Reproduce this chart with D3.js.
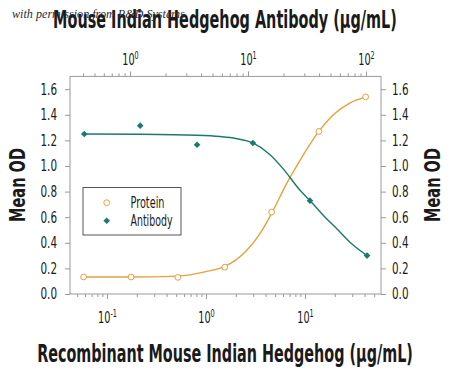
<!DOCTYPE html>
<html>
<head>
<meta charset="utf-8">
<script src="https://cdn.jsdelivr.net/npm/d3@7"></script>
<style>
body { margin: 0; background: #fff; }
svg text { font-family: 'Liberation Sans Narrow', 'DejaVu Sans Condensed', sans-serif; fill: #1a1a1a; }
</style>
</head>
<body>
<div id="chart-area"></div>
<script>
// measured points (bottom axis = protein, top axis = antibody)
const proteinDose = [0.058, 0.175, 0.52, 1.55, 4.6, 13.8, 41];
const proteinOD = [0.133, 0.133, 0.13, 0.21, 0.64, 1.27, 1.54];
const antibodyDose = [0.41, 1.22, 3.7, 11.0, 33.5, 102];
const antibodyOD = [1.25, 1.315, 1.166, 1.18, 0.729, 0.30];

// fitted curves
const proteinFitDose = [0.058, 0.175, 0.52, 1.0, 1.55, 2.5, 3.5, 4.6, 6.5, 9.0, 13.8, 20, 28, 41];
const proteinFitOD = [0.133, 0.133, 0.14, 0.175, 0.215, 0.33, 0.47, 0.63, 0.86, 1.05, 1.27, 1.41, 1.49, 1.54];
const antibodyFitDose = [0.41, 1.22, 3.7, 5.8, 7.9, 11.0, 15.3, 20.2, 27.6, 33.5, 45, 56.6, 76, 102];
const antibodyFitOD = [1.25, 1.248, 1.24, 1.23, 1.215, 1.18, 1.09, 0.97, 0.81, 0.73, 0.60, 0.51, 0.39, 0.30];

const yTicks = [0, 0.2, 0.4, 0.6, 0.8, 1.0, 1.2, 1.4, 1.6];
const legendLabels = ["Protein", "Antibody"];
const topTitle = "Mouse Indian Hedgehog Antibody (µg/mL)";
const bottomTitle = "Recombinant Mouse Indian Hedgehog (µg/mL)";
const yTitle = "Mean OD";
const watermark = "with permission from R&D Systems";

const plot = {left: 70, right: 381, top: 76.4, bottom: 294};
const orange = "#e4a23c";
const teal = "#1b7a6e";
const frameColor = "#9a9a9a";

const y = d3.scaleLinear().domain([0, 1.7]).range([plot.bottom, plot.top]);
const xBottom = d3.scaleLog().domain([0.0423, 58.6]).range([plot.left, plot.right]);
const xTop = d3.scaleLog().domain([0.31, 134]).range([plot.left, plot.right]);

const isPow = d => Math.abs(Math.log10(d) - Math.round(Math.log10(d))) < 1e-6;

const svg = d3.select("#chart-area").append("svg")
    .attr("width", 450)
    .attr("height", 370);

// squeeze a text horizontally to a given width (condensed look without textLength)
const squeeze = (text, width, before) => {
    const w = text.node().getComputedTextLength();
    text.attr("transform", `${before || ""} scale(${width / w}, 1)`);
};

const styleLogAxis = (g, labelY) => {
    g.attr("font-family", null).attr("font-size", null);
    g.select(".domain").remove();
    g.selectAll(".tick line").attr("stroke", frameColor)
        .attr("y2", d => (isPow(d) ? 5 : 3) * (labelY > 0 ? 1 : -1));
    g.selectAll(".tick text").each(function (d) {
        const t = d3.select(this);
        t.text(null).attr("fill", null);
        if (!isPow(d)) return;
        const p = Math.round(Math.log10(d));
        t.attr("y", labelY).attr("dy", null).attr("font-size", 15);
        t.append("tspan").text("10");
        t.append("tspan").attr("dy", -6).attr("font-size", 10).text(p);
        t.attr("transform", "scale(0.72, 1)");
    });
};

// bottom log axis
svg.append("g")
    .attr("transform", `translate(0, ${plot.bottom})`)
    .call(d3.axisBottom(xBottom).tickValues(xBottom.ticks()).tickSize(3))
    .call(g => styleLogAxis(g, 29));

// top log axis
svg.append("g")
    .attr("transform", `translate(0, ${plot.top})`)
    .call(d3.axisTop(xTop).tickValues(xTop.ticks()).tickSize(3))
    .call(g => styleLogAxis(g, -11));

const styleLinAxis = g => {
    g.attr("font-family", null).attr("font-size", 15);
    g.select(".domain").remove();
    g.selectAll(".tick line").attr("stroke", frameColor);
    g.selectAll(".tick text").attr("fill", null)
        .attr("textLength", 16.5).attr("lengthAdjust", "spacingAndGlyphs");
};

svg.append("g")
    .attr("transform", `translate(${plot.left}, 0)`)
    .call(d3.axisLeft(y).tickValues(yTicks).tickSize(5).tickPadding(8).tickFormat(d3.format(".1f")))
    .call(styleLinAxis);

svg.append("g")
    .attr("transform", `translate(${plot.right}, 0)`)
    .call(d3.axisRight(y).tickValues(yTicks).tickSize(5).tickPadding(6).tickFormat(d3.format(".1f")))
    .call(styleLinAxis);

// frame
svg.append("rect")
    .attr("x", plot.left)
    .attr("y", plot.top)
    .attr("width", plot.right - plot.left)
    .attr("height", plot.bottom - plot.top)
    .attr("fill", "none")
    .attr("stroke", frameColor)
    .attr("stroke-width", 1);

// fit curves
const proteinLine = d3.line()
    .x(i => xBottom(proteinFitDose[i]))
    .y(i => y(proteinFitOD[i]))
    .curve(d3.curveMonotoneX);
const antibodyLine = d3.line()
    .x(i => xTop(antibodyFitDose[i]))
    .y(i => y(antibodyFitOD[i]))
    .curve(d3.curveMonotoneX);

svg.append("path")
    .attr("d", proteinLine(d3.range(proteinFitDose.length)))
    .attr("fill", "none")
    .attr("stroke", orange)
    .attr("stroke-width", 1.4);

svg.append("path")
    .attr("d", antibodyLine(d3.range(antibodyFitDose.length)))
    .attr("fill", "none")
    .attr("stroke", teal)
    .attr("stroke-width", 1.4);

// markers
svg.selectAll(".protein").data(d3.range(proteinDose.length)).enter()
    .append("circle")
    .attr("class", "protein")
    .attr("cx", i => xBottom(proteinDose[i]))
    .attr("cy", i => y(proteinOD[i]))
    .attr("r", 2.9)
    .attr("fill", "#fff")
    .attr("stroke", orange)
    .attr("stroke-width", 1);

const diamond = d3.symbol().type(d3.symbolSquare).size(22);
svg.selectAll(".antibody").data(d3.range(antibodyDose.length)).enter()
    .append("path")
    .attr("class", "antibody")
    .attr("d", diamond)
    .attr("transform", i => `translate(${xTop(antibodyDose[i])}, ${y(antibodyOD[i])}) rotate(45)`)
    .attr("fill", teal);

// legend
const legend = svg.append("g");
legend.append("rect")
    .attr("x", 83).attr("y", 187.5)
    .attr("width", 98).attr("height", 47.5)
    .attr("fill", "#fff")
    .attr("stroke", "#555")
    .attr("stroke-width", 1);
legend.append("circle")
    .attr("cx", 106.7).attr("cy", 202.7).attr("r", 2.9)
    .attr("fill", "#fff").attr("stroke", orange);
legend.append("path")
    .attr("d", diamond)
    .attr("transform", "translate(106.7, 220.7) rotate(45)")
    .attr("fill", teal);
const legendWidths = [34, 42];
legend.selectAll("text").data(legendLabels).enter()
    .append("text")
    .attr("x", 130.5)
    .attr("y", (d, i) => 207.5 + i * 18)
    .attr("font-size", 15)
    .attr("textLength", (d, i) => legendWidths[i]).attr("lengthAdjust", "spacingAndGlyphs")
    .text(d => d);

// titles
const topText = svg.append("text")
    .attr("text-anchor", "middle")
    .attr("font-size", 24).attr("font-weight", "bold")
    .text(topTitle);
squeeze(topText, 344, "translate(225, 28)");

const bottomText = svg.append("text")
    .attr("text-anchor", "middle")
    .attr("font-size", 24).attr("font-weight", "bold")
    .text(bottomTitle);
squeeze(bottomText, 376, "translate(225, 362)");

[25, 440].forEach(xPos => {
    const t = svg.append("text")
        .attr("text-anchor", "middle")
        .attr("font-size", 21).attr("font-weight", "bold")
        .text(yTitle);
    squeeze(t, 74, `translate(${xPos}, 185) rotate(-90)`);
});

const markText = svg.append("text")
    .attr("font-size", 12)
    .attr("font-style", "italic")
    .style("font-family", "'Liberation Serif', 'DejaVu Serif', serif")
    .style("fill", "#2a2a3a")
    .text(watermark);
squeeze(markText, 173, "translate(12, 18)");
</script>
</body>
</html>
